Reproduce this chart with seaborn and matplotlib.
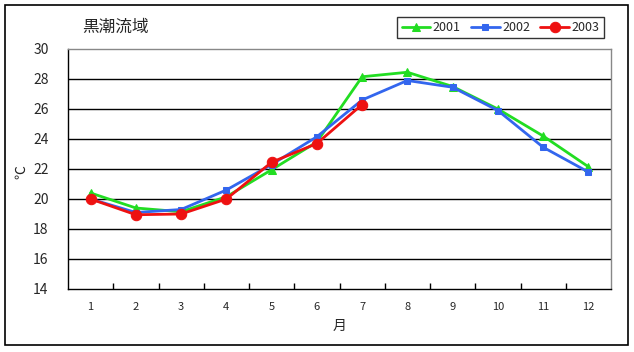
import matplotlib
matplotlib.use("Agg")
import matplotlib.pyplot as plt
import seaborn as sns
import pandas as pd
from matplotlib.patches import Rectangle
from matplotlib.ticker import FixedLocator

months = list(range(1, 13))
v2001 = [20.4, 19.4, 19.15, 20.15, 21.95, 23.8, 28.15, 28.45, 27.5, 26.0, 24.2, 22.15]
v2002 = [20.0, 19.1, 19.3, 20.6, 22.3, 24.15, 26.6, 27.9, 27.45, 25.9, 23.45, 21.8]
v2003 = [20.0, 18.95, 19.0, 20.0, 22.45, 23.7, 26.3]
series_names = ["2001", "2002", "2003"]
title_text = "黒潮流域"
xlabel_text = "月"
ylabel_text = "℃"

sns.set_theme(style="white")
plt.rcParams['font.family'] = ['Noto Sans CJK JP', 'DejaVu Sans']

fig = plt.figure(figsize=(6.34, 3.52), dpi=100)
W, H = 634, 352
ax = fig.add_axes([68 / W, 1 - 289 / H, (611 - 68) / W, (289 - 49) / H])

styles = [
    dict(color="#22dd22", marker="^", markersize=6),
    dict(color="#3366ee", marker="s", markersize=5),
    dict(color="#ee1111", marker="o", markersize=7.5),
]
data = [v2001, v2002, v2003]
for name, vals, st in zip(series_names, data, styles):
    df = pd.DataFrame({"month": months[:len(vals)], "val": vals})
    sns.lineplot(data=df, x="month", y="val", ax=ax, color=st["color"],
                 marker=st["marker"], markersize=st["markersize"],
                 markeredgecolor=st["color"], linewidth=2, label=name,
                 legend=False)

ax.set_xlim(0.5, 12.5)
ax.set_ylim(14, 30)
ax.set_yticks(range(14, 31, 2))
ax.set_yticklabels([str(v) for v in range(14, 31, 2)], fontsize=10)
ax.set_xticks(months)
ax.set_xticklabels([str(m) for m in months], fontsize=8)
ax.xaxis.set_minor_locator(FixedLocator([m + 0.5 for m in range(1, 12)]))
ax.tick_params(axis="x", which="major", length=0, pad=9)
ax.tick_params(axis="x", which="minor", length=4, direction="in", color="black", width=1, bottom=True)
ax.tick_params(axis="y", length=0, pad=14)

for y in range(16, 30, 2):
    ax.axhline(y, color="black", linewidth=1, zorder=0)

for s in ["left", "bottom"]:
    ax.spines[s].set_color("black")
    ax.spines[s].set_linewidth(1)
for s in ["top", "right"]:
    ax.spines[s].set_color("#888888")
    ax.spines[s].set_linewidth(1)

ax.set_xlabel("")
ax.set_ylabel("")
fig.text(340 / W, 1 - 326 / H, xlabel_text, ha="center", va="center", fontsize=10)
fig.text(21 / W, 1 - 172 / H, ylabel_text, ha="center", va="center", fontsize=10, rotation=90)
fig.text(82 / W, 1 - 27 / H, title_text, ha="left", va="center", fontsize=12)

handles, labels = ax.get_legend_handles_labels()
leg = fig.legend(handles, labels, ncol=3, loc="center",
                 bbox_to_anchor=(500.5 / W, 1 - 27.5 / H), fontsize=9,
                 frameon=True, fancybox=False, edgecolor="black",
                 handlelength=2.3, columnspacing=0.8, handletextpad=0.2,
                 borderpad=0.35, borderaxespad=0)
leg.get_frame().set_linewidth(1)

fig.patches.append(Rectangle((5 / W, 1 - 345 / H), (628 - 5) / W, (345 - 5) / H,
                             transform=fig.transFigure, fill=False,
                             edgecolor="black", linewidth=1.2))

fig.savefig("out.png", dpi=100)
